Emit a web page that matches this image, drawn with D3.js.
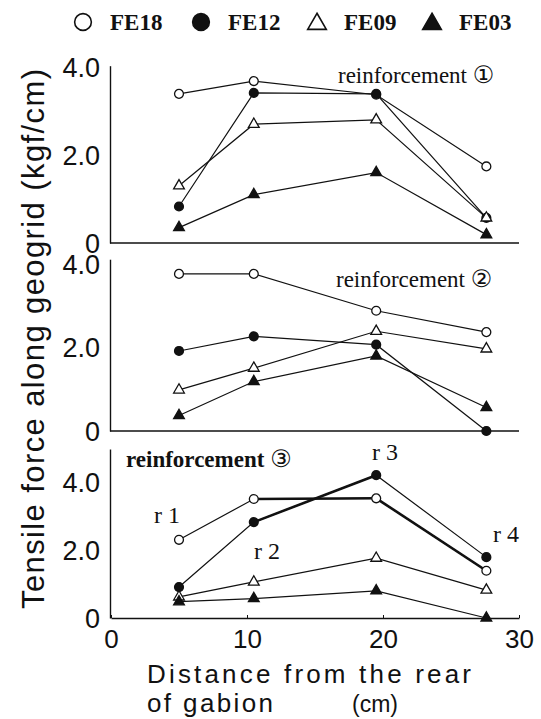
<!DOCTYPE html>
<html>
<head>
<meta charset="utf-8">
<script src="https://cdn.jsdelivr.net/npm/d3@7"></script>
<style>
  body { margin: 0; background: #fff; }
  svg { display: block; }
  .tick text { font-family: "Liberation Sans", Arial, sans-serif; fill: #111; }
</style>
</head>
<body>
<div id="chart"></div>
<script>
// distances of the measuring points (cm)
const distance = [5, 10.5, 19.5, 27.6];
const seriesNames = ["FE18", "FE12", "FE09", "FE03"];

// reinforcement 1 (kgf/cm)
const r1FE18 = [3.39, 3.68, 3.37, 1.74];
const r1FE12 = [0.83, 3.41, 3.39, 0.57];
const r1FE09 = [1.30, 2.70, 2.80, 0.57];
const r1FE03 = [0.35, 1.10, 1.60, 0.19];
// reinforcement 2
const r2FE18 = [3.75, 3.75, 2.87, 2.36];
const r2FE12 = [1.91, 2.26, 2.06, 0.00];
const r2FE09 = [0.98, 1.50, 2.38, 1.96];
const r2FE03 = [0.37, 1.18, 1.79, 0.56];
// reinforcement 3
const r3FE18 = [2.30, 3.50, 3.52, 1.39];
const r3FE12 = [0.91, 2.82, 4.20, 1.79];
const r3FE09 = [0.62, 1.06, 1.76, 0.82];
const r3FE03 = [0.48, 0.57, 0.80, 0.00];

const yTickValues = [0, 2, 4];
const yTickLabels = ["0", "2.0", "4.0"];
const xTickValues = [0, 10, 20, 30];
const pointLabels = ["r 1", "r 2", "r 3", "r 4"];

const W = 541, H = 719;
const svg = d3.select("#chart").append("svg").attr("width", W).attr("height", H);

const x = d3.scaleLinear().domain([0, 30]).range([111, 519]);

// marker style per series
const markerOf = {
	FE18: { type: d3.symbolCircle, fill: "#fff" },
	FE12: { type: d3.symbolCircle, fill: "#111" },
	FE09: { type: d3.symbolTriangle, fill: "#fff" },
	FE03: { type: d3.symbolTriangle, fill: "#111" }
};

const panels = [
	{ name: "①", base: 243, unit: 44, top: 4.03, series: [r1FE18, r1FE12, r1FE09, r1FE03],
	  label: { x: 338, y: 83, bold: false } },
	{ name: "②", base: 431, unit: 41.9, top: 4.1, series: [r2FE18, r2FE12, r2FE09, r2FE03],
	  label: { x: 336, y: 287, bold: false } },
	{ name: "③", base: 618, unit: 34, top: 4.97, series: [r3FE18, r3FE12, r3FE09, r3FE03],
	  label: { x: 126, y: 467, bold: true } }
];

function drawPanel(p, i){
	const y = d3.scaleLinear().domain([0, p.top]).range([p.base, p.base - p.top * p.unit]);
	const g = svg.append("g").attr("class", "panel" + (i + 1));

	// y axis
	const yAxis = d3.axisLeft(y)
		.tickValues(yTickValues)
		.tickFormat((d, k) => yTickLabels[k])
		.tickSizeInner(0).tickSizeOuter(0).tickPadding(10);
	const ya = g.append("g").attr("transform", `translate(${x(0) - 1},0)`).call(yAxis);
	ya.select(".domain").attr("stroke", "#111").attr("stroke-width", 1.4);
	ya.selectAll(".tick text").attr("font-size", 27).attr("dy", "0.36em");

	// baseline
	if (i < 2) {
		g.append("line")
			.attr("x1", x(0) - 1).attr("x2", x(30))
			.attr("y1", y(0)).attr("y2", y(0))
			.attr("stroke", "#111").attr("stroke-width", 1.4);
	} else {
		const xAxis = d3.axisBottom(x)
			.tickValues(xTickValues)
			.tickSizeInner(-3).tickSizeOuter(0).tickPadding(12);
		const xa = g.append("g").attr("transform", `translate(0,${y(0)})`).call(xAxis);
		xa.select(".domain").attr("stroke", "#111").attr("stroke-width", 1.4);
		xa.selectAll(".tick line").attr("stroke", "#111");
		xa.selectAll(".tick text").attr("font-size", 26);
	}

	const line = d3.line().x((d, k) => x(distance[k])).y(d => y(d));

	p.series.forEach((vals, s) => {
		g.append("path")
			.datum(vals)
			.attr("d", line)
			.attr("fill", "none")
			.attr("stroke", "#111")
			.attr("stroke-width", 1.2);
	});

	// heavier strokes in panel 3 where the scan shows thick wedges
	if (i === 2) {
		const heavy = [[0, 1, 2], [0, 2, 3], [1, 1, 2]];
		heavy.forEach(([s, a, b]) => {
			g.append("line")
				.attr("x1", x(distance[a])).attr("y1", y(p.series[s][a]))
				.attr("x2", x(distance[b])).attr("y2", y(p.series[s][b]))
				.attr("stroke", "#111").attr("stroke-width", 2.6);
		});
	}

	p.series.forEach((vals, s) => {
		const m = markerOf[seriesNames[s]];
		g.selectAll(null)
			.data(vals)
			.enter().append("path")
			.attr("d", d3.symbol().type(m.type).size(m.type === d3.symbolCircle ? 62 : 50))
			.attr("transform", (d, k) => `translate(${x(distance[k])},${y(d)})`)
			.attr("fill", m.fill)
			.attr("stroke", "#111")
			.attr("stroke-width", 1.3);
	});

	// panel title
	const t = g.append("text")
		.attr("x", p.label.x).attr("y", p.label.y)
		.attr("font-family", "'Liberation Serif', 'Times New Roman', serif")
		.attr("font-size", 23)
		.attr("font-weight", p.label.bold ? "bold" : "normal")
		.attr("fill", "#111");
	t.append("tspan").text("reinforcement ");
	t.append("tspan").attr("font-family", "'DejaVu Sans', sans-serif").attr("font-size", 24).attr("font-weight", "normal").text(p.name);
}

panels.forEach(drawPanel);

// r1..r4 point labels in panel 3
const rLabelPos = [[154, 523], [254, 559], [372, 460], [493, 542]];
svg.append("g").selectAll("text")
	.data(pointLabels)
	.enter().append("text")
	.attr("x", (d, k) => rLabelPos[k][0])
	.attr("y", (d, k) => rLabelPos[k][1])
	.attr("font-family", "'Liberation Serif', 'Times New Roman', serif")
	.attr("font-size", 24)
	.attr("fill", "#111")
	.text(d => d);

// legend
const legend = svg.append("g").attr("class", "legend");
const legendX = [83, 201, 317, 432];
seriesNames.forEach((name, s) => {
	const m = markerOf[name];
	legend.append("path")
		.attr("d", d3.symbol().type(m.type).size(m.type === d3.symbolCircle ? 220 : 150))
		.attr("transform", `translate(${legendX[s]},${m.type === d3.symbolCircle ? 22 : 24})`)
		.attr("fill", m.fill)
		.attr("stroke", "#111")
		.attr("stroke-width", 1.6);
	legend.append("text")
		.attr("x", legendX[s] + 27).attr("y", 30)
		.attr("font-family", "'Liberation Serif', 'Times New Roman', serif")
		.attr("font-size", 23)
		.attr("font-weight", "bold")
		.attr("fill", "#111")
		.text(name);
});

// axis titles
svg.append("text")
	.attr("transform", "translate(44,339) rotate(-90)")
	.attr("text-anchor", "middle")
	.attr("font-family", "'Liberation Sans', Arial, sans-serif")
	.attr("font-size", 31)
	.attr("fill", "#111")
	.attr("textLength", 540)
	.attr("lengthAdjust", "spacing")
	.text("Tensile force along geogrid (kgf/cm)");

svg.append("text")
	.attr("x", 147).attr("y", 683)
	.attr("font-family", "'Liberation Sans', Arial, sans-serif")
	.attr("font-size", 26)
	.attr("fill", "#111")
	.attr("textLength", 324)
	.attr("lengthAdjust", "spacing")
	.text("Distance from the rear");

svg.append("text")
	.attr("x", 147).attr("y", 712)
	.attr("font-family", "'Liberation Sans', Arial, sans-serif")
	.attr("font-size", 26)
	.attr("fill", "#111")
	.attr("textLength", 126)
	.attr("lengthAdjust", "spacing")
	.text("of gabion");

svg.append("text")
	.attr("x", 352).attr("y", 712)
	.attr("font-family", "'Liberation Sans', Arial, sans-serif")
	.attr("font-size", 23)
	.attr("fill", "#111")
	.text("(cm)");
</script>
</body>
</html>
